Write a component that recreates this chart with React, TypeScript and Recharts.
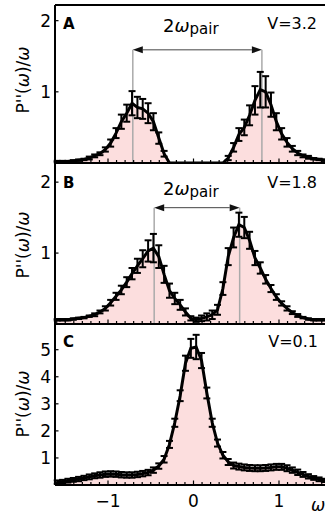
import React from 'react';
import { ComposedChart, Line, Area, XAxis, YAxis, ErrorBar, ReferenceLine } from 'recharts';

const FONT = '"DejaVu Sans", sans-serif';

// frequency grid (omega)
const W = [-1.594,-1.531,-1.469,-1.406,-1.344,-1.281,-1.219,-1.156,-1.094,-1.031,-0.969,-0.906,-0.844,-0.781,-0.719,-0.656,-0.594,-0.531,-0.469,-0.406,-0.344,-0.281,-0.219,-0.156,-0.094,-0.031,0.031,0.094,0.156,0.219,0.281,0.344,0.406,0.469,0.531,0.594,0.656,0.719,0.781,0.844,0.906,0.969,1.031,1.094,1.156,1.219,1.281,1.344,1.406,1.469,1.531,1.594];

// Panel A (V=3.2)
const A_VAL = [0.02,0.02,0.02,0.03,0.04,0.05,0.07,0.10,0.13,0.19, 0.28,0.42,0.58,0.70,0.84,0.78,0.76,0.70,0.58,0.35, 0.13,0,0,0,0,0,0,0,0,0, 0,0,0.07,0.22,0.40,0.50,0.67,0.88,1.03,1.00, 0.82,0.58,0.41,0.29,0.20,0.14,0.10,0.08,0.06,0.05, 0.04,0.03];
const A_ERR = [0.01,0.01,0.01,0.01,0.01,0.01,0.02,0.02,0.02,0.03, 0.05,0.07,0.10,0.12,0.17,0.15,0.14,0.14,0.12,0.08, 0.04,0,0,0,0,0,0,0,0,0, 0,0,0.03,0.06,0.09,0.11,0.14,0.20,0.25,0.22, 0.17,0.12,0.08,0.06,0.04,0.03,0.02,0.02,0.01,0.01, 0.01,0.01];

// Panel B (V=1.8)
const B_VAL = [0.06,0.06,0.06,0.07,0.08,0.09,0.11,0.13,0.17,0.22, 0.30,0.39,0.48,0.59,0.71,0.82,0.92,1.03,1.07,0.95, 0.70,0.47,0.36,0.27,0.17,0.08,0.06,0.08,0.10,0.13, 0.20,0.50,0.95,1.22,1.40,1.36,1.18,0.93,0.79,0.63, 0.50,0.38,0.29,0.22,0.16,0.12,0.09,0.07,0.06,0.06, 0.06,0.06];
const B_ERR = [0.01,0.01,0.01,0.01,0.01,0.01,0.01,0.02,0.02,0.03, 0.04,0.05,0.06,0.07,0.08,0.10,0.12,0.15,0.20,0.16, 0.12,0.10,0.08,0.07,0.05,0.03,0.03,0.04,0.05,0.06, 0.07,0.09,0.12,0.14,0.17,0.15,0.12,0.10,0.08,0.06, 0.05,0.04,0.03,0.03,0.02,0.02,0.01,0.01,0.01,0.01, 0.01,0.01];

// Panel C (V=0.1)
const C_VAL = [0.11,0.13,0.16,0.19,0.22,0.26,0.30,0.34,0.37,0.40, 0.41,0.40,0.38,0.37,0.37,0.39,0.42,0.46,0.55,0.70, 0.95,1.50,2.30,3.30,4.50,5.05,5.10,4.60,3.40,2.30, 1.55,1.10,0.85,0.72,0.68,0.65,0.63,0.62,0.62,0.63, 0.65,0.67,0.67,0.62,0.55,0.47,0.39,0.32,0.26,0.21, 0.17,0.14];
const C_ERR = [0.06,0.06,0.07,0.07,0.08,0.08,0.09,0.09,0.10,0.10, 0.10,0.10,0.10,0.10,0.10,0.10,0.10,0.10,0.10,0.10, 0.12,0.13,0.15,0.20,0.28,0.35,0.45,0.28,0.20,0.15, 0.13,0.12,0.11,0.11,0.11,0.11,0.11,0.11,0.11,0.11, 0.11,0.11,0.11,0.11,0.10,0.10,0.09,0.08,0.07,0.07, 0.06,0.06];

const X_DOMAIN = [-1.62, 1.62];
const X_TICKS = [-1.6,-1.5,-1.4,-1.3,-1.2,-1.1,-1,-0.9,-0.8,-0.7,-0.6,-0.5,-0.4,-0.3,-0.2,-0.1,0,0.1,0.2,0.3,0.4,0.5,0.6,0.7,0.8,0.9,1,1.1,1.2,1.3,1.4,1.5,1.6];
const X_MAJOR = [-1, 0, 1];

const A_YMAX = 2.22;
const B_YMAX = 2.27;
const C_YMAX = 5.95;
const A_YTICKS = [1, 2];
const B_YTICKS = [1, 2];
const C_YTICKS = [1, 2, 3, 4, 5];

// pair-peak annotations: [left peak, right peak], arrow height
const A_PAIR = [-0.71, 0.80];
const A_ARROW_Y = 1.59;
const B_PAIR = [-0.46, 0.54];
const B_ARROW_Y = 1.64;

const makeData = (vals: number[], errs: number[]) => W.map((w, i) => ({ w, v: vals[i], e: errs[i] }));

const XTick = (props: any) => {
  const { x, y, payload, showLabels } = props;
  const v = payload.value;
  const major = X_MAJOR.some((m) => Math.abs(m - v) < 1e-6);
  const label = v < 0 ? '\u2212' + Math.abs(v) : String(v);
  return (
    <g>
      <line x1={x} y1={y} x2={x} y2={y - (major ? 4.5 : 3)} stroke="#000" strokeWidth={1.2} />
      {showLabels && major ? (
        <text x={x} y={y + 22} textAnchor="middle" fontSize={17} fontFamily={FONT} fill="#000">{label}</text>
      ) : null}
    </g>
  );
};

const YTick = (props: any) => {
  const { x, y, payload } = props;
  return (
    <g>
      <line x1={x} y1={y} x2={x + 3.5} y2={y} stroke="#000" strokeWidth={1.2} />
      <text x={x - 4} y={y + 6} textAnchor="end" fontSize={17} fontFamily={FONT} fill="#000">{payload.value}</text>
    </g>
  );
};

const ArrowShape = (props: any) => {
  const { x1, y1, x2, y2 } = props;
  const head = 10;
  const hw = 3.5;
  return (
    <g>
      <line x1={x1 + head} y1={y1} x2={x2 - head} y2={y2} stroke="#444" strokeWidth={1} />
      <polygon points={`${x1},${y1} ${x1 + head},${y1 - hw} ${x1 + head},${y1 + hw}`} fill="#111" />
      <polygon points={`${x2},${y2} ${x2 - head},${y2 - hw} ${x2 - head},${y2 + hw}`} fill="#111" />
    </g>
  );
};

type PanelProps = {
  vals: number[];
  errs: number[];
  ymax: number;
  yticks: number[];
  height: number;
  margin: { top: number; right: number; bottom: number; left: number };
  showXLabels: boolean;
  pair?: number[];
  arrowY?: number;
};

const Panel = ({ vals, errs, ymax, yticks, height, margin, showXLabels, pair, arrowY }: PanelProps) => {
  const data = makeData(vals, errs);
  return (
    <ComposedChart width={340} height={height} data={data} margin={margin} style={{ overflow: 'visible' }}>
      <XAxis
        type="number"
        dataKey="w"
        domain={X_DOMAIN}
        ticks={X_TICKS}
        interval={0}
        allowDataOverflow
        height={1}
        tickSize={0}
        tickMargin={0}
        tickLine={false}
        axisLine={{ stroke: '#000', strokeWidth: 2 }}
        tick={(p: any) => <XTick {...p} showLabels={showXLabels} />}
      />
      <YAxis
        type="number"
        domain={[0, ymax]}
        ticks={yticks}
        interval={0}
        allowDataOverflow
        width={55}
        tickSize={0}
        tickMargin={0}
        tickLine={false}
        axisLine={{ stroke: '#000', strokeWidth: 2 }}
        tick={(p: any) => <YTick {...p} />}
      />
      <Area type="linear" dataKey="v" fill="#fcdede" fillOpacity={1} stroke="none" isAnimationActive={false} />
      {pair
        ? pair.map((px, i) => (
            <ReferenceLine
              key={'g' + i}
              segment={[{ x: px, y: 0 }, { x: px, y: arrowY as number }]}
              stroke="#aaaaaa"
              strokeWidth={1.5}
            />
          ))
        : null}
      {pair ? (
        <ReferenceLine
          segment={[{ x: pair[0], y: arrowY as number }, { x: pair[1], y: arrowY as number }]}
          shape={ArrowShape}
        />
      ) : null}
      <Line type="linear" dataKey="v" stroke="#000" strokeWidth={3} dot={false} isAnimationActive={false}>
        <ErrorBar dataKey="e" direction="y" width={3.5} stroke="#000" strokeWidth={2} />
      </Line>
      <ReferenceLine y={ymax} stroke="#000" strokeWidth={2} />
      <ReferenceLine x={X_DOMAIN[1]} stroke="#000" strokeWidth={2} />
    </ComposedChart>
  );
};

const YLabel = ({ cx, cy }: { cx: number; cy: number }) => (
  <text transform={`translate(${cx},${cy}) rotate(-90)`} textAnchor="middle" fontSize={17} fontFamily={FONT} fill="#000">
    P''(<tspan fontStyle="italic">ω</tspan>)/<tspan fontStyle="italic">ω</tspan>
  </text>
);

const PairLabel = ({ x, y }: { x: number; y: number }) => (
  <text x={x} y={y} fontFamily={FONT} fill="#000">
    <tspan fontSize={18}>2</tspan>
    <tspan fontSize={18} fontStyle="italic">ω</tspan>
    <tspan fontSize={15} dy={2}>pair</tspan>
  </text>
);

export default function App() {
  return (
    <div style={{ position: 'absolute', left: 0, top: 0, width: 325, height: 515, overflow: 'hidden', background: '#fff', fontFamily: FONT }}>
      <div style={{ position: 'absolute', left: 0, top: 0 }}>
        <Panel vals={A_VAL} errs={A_ERR} ymax={A_YMAX} yticks={A_YTICKS} height={170}
          margin={{ top: 5, right: 8, bottom: 6, left: 0 }} showXLabels={false} pair={A_PAIR} arrowY={A_ARROW_Y} />
      </div>
      <div style={{ position: 'absolute', left: 0, top: 156 }}>
        <Panel vals={B_VAL} errs={B_ERR} ymax={B_YMAX} yticks={B_YTICKS} height={175}
          margin={{ top: 7, right: 8, bottom: 6, left: 0 }} showXLabels={false} pair={B_PAIR} arrowY={B_ARROW_Y} />
      </div>
      <div style={{ position: 'absolute', left: 0, top: 317 }}>
        <Panel vals={C_VAL} errs={C_ERR} ymax={C_YMAX} yticks={C_YTICKS} height={198}
          margin={{ top: 7, right: 8, bottom: 29, left: 0 }} showXLabels={true} />
      </div>
      <svg width={325} height={515} style={{ position: 'absolute', left: 0, top: 0, pointerEvents: 'none' }}>
        <YLabel cx={28.5} cy={80} />
        <YLabel cx={28.5} cy={245} />
        <YLabel cx={28.5} cy={404} />
        <text x={63} y={29.3} fontSize={15} fontWeight="bold" fontFamily={FONT} fill="#000">A</text>
        <text x={63} y={187.7} fontSize={15} fontWeight="bold" fontFamily={FONT} fill="#000">B</text>
        <text x={63} y={347} fontSize={15} fontWeight="bold" fontFamily={FONT} fill="#000">C</text>
        <text x={317} y={29.3} fontSize={16} textAnchor="end" fontFamily={FONT} fill="#000">V=3.2</text>
        <text x={317} y={187.7} fontSize={16} textAnchor="end" fontFamily={FONT} fill="#000">V=1.8</text>
        <text x={318} y={347} fontSize={16} textAnchor="end" fontFamily={FONT} fill="#000">V=0.1</text>
        <PairLabel x={163} y={31.7} />
        <PairLabel x={163} y={195} />
        <text x={311} y={511} fontSize={17} fontStyle="italic" fontFamily={FONT} fill="#000">ω</text>
      </svg>
    </div>
  );
}
